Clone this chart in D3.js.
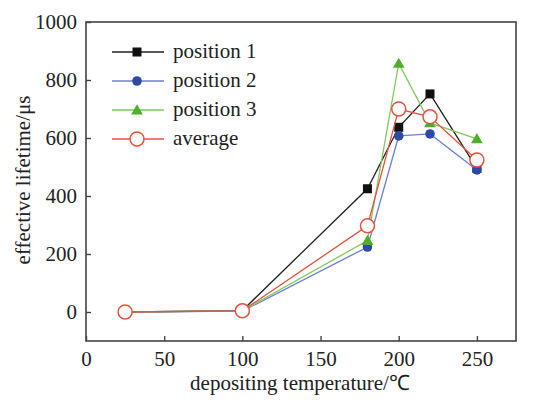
<!DOCTYPE html>
<html lang="en">
<head>
    <meta charset="UTF-8">
    <title>effective lifetime</title>
    <script src="https://cdn.jsdelivr.net/npm/d3@7/dist/d3.min.js"></script>
    <style>
        body { margin: 0; background: #fff; }
    </style>
</head>
<body>
<div id="chart"></div>
<script>
    // values
    var temperatures = [25, 100, 180, 200, 220, 250];
    var position1 = [0, 5, 425, 637, 752, 495];
    var position2 = [0, 3, 224, 607, 614, 490];
    var position3 = [0, 4, 246, 857, 652, 597];
    var average = [0, 4, 297, 700, 673, 524];

    var xTicks = [0, 50, 100, 150, 200, 250];
    var yTicks = [0, 200, 400, 600, 800, 1000];

    var seriesNames = ["position 1", "position 2", "position 3", "average"];

    var serif = "'Liberation Serif', Tinos, 'Times New Roman'";

    var width = 554, height = 405;
    var margin = {left: 86, right: 38, top: 22, bottom: 64};

    var svg = d3.select("#chart").append("svg")
            .attr("width", width)
            .attr("height", height);

    var x = d3.scaleLinear().domain([0, 275]).range([margin.left, width - margin.right]);
    var y = d3.scaleLinear().domain([-100, 1000]).range([height - margin.bottom, margin.top]);

    // frame
    svg.append("rect")
            .attr("x", x(0))
            .attr("y", y(1000))
            .attr("width", x(275) - x(0))
            .attr("height", y(-100) - y(1000))
            .style("fill", "none")
            .attr("stroke", "#444")
            .attr("stroke-width", 1.6);

    var xAxis = svg.append("g")
            .attr("transform", "translate(0," + y(-100) + ")")
            .call(d3.axisBottom(x).tickValues(xTicks).tickFormat(d3.format("d")).tickSize(-5).tickPadding(10));
    var yAxis = svg.append("g")
            .attr("transform", "translate(" + x(0) + ",0)")
            .call(d3.axisLeft(y).tickValues(yTicks).tickFormat(d3.format("d")).tickSize(-5).tickPadding(9));

    [xAxis, yAxis].forEach(function (g) {
        g.attr("font-family", null);
        g.select(".domain").remove();
        g.selectAll(".tick line").attr("stroke", "#444").attr("stroke-width", 1.4);
        g.selectAll(".tick text")
                .style("font-family", serif)
                .style("font-size", "21px")
                .attr("fill", "#222");
    });

    svg.append("text")
            .attr("x", 300)
            .attr("y", 390)
            .attr("text-anchor", "middle")
            .style("font-family", serif)
            .style("font-size", "21px")
            .attr("fill", "#222")
            .text("depositing temperature/℃");

    svg.append("text")
            .attr("transform", "translate(30,180) rotate(-90)")
            .attr("text-anchor", "middle")
            .style("font-family", serif)
            .style("font-size", "21px")
            .attr("fill", "#222")
            .text("effective lifetime/μs");

    var series = [
        {name: seriesNames[0], values: position1, line: "#222", fill: "#111", shape: "square"},
        {name: seriesNames[1], values: position2, line: "#6b7fd6", fill: "#2d4ba6", shape: "circle"},
        {name: seriesNames[2], values: position3, line: "#82c95e", fill: "#4fae2c", shape: "triangle"},
        {name: seriesNames[3], values: average, line: "#e8503f", fill: "#fff", shape: "open"}
    ];

    var line = d3.line()
            .x(function (d) { return x(d[0]); })
            .y(function (d) { return y(d[1]); });

    function marker(g, s, cx, cy) {
        if (s.shape === "square") {
            g.append("rect").attr("x", cx - 4.5).attr("y", cy - 4.5)
                    .attr("width", 9).attr("height", 9).style("fill", s.fill);
        } else if (s.shape === "circle") {
            g.append("circle").attr("cx", cx).attr("cy", cy).attr("r", 4.8).style("fill", s.fill);
        } else if (s.shape === "triangle") {
            g.append("path")
                    .attr("d", d3.symbol().type(d3.symbolTriangle).size(60)())
                    .attr("transform", "translate(" + cx + "," + (cy + 1) + ")")
                    .style("fill", s.fill);
        } else {
            g.append("circle").attr("cx", cx).attr("cy", cy).attr("r", 7)
                    .style("fill", "#fff")
                    .style("stroke", s.line)
                    .style("stroke-width", 1.5);
        }
    }

    series.forEach(function (s) {
        var pts = temperatures.map(function (t, i) { return [t, s.values[i]]; });
        var g = svg.append("g");
        g.append("path")
                .attr("d", line(pts))
                .style("fill", "none")
                .style("stroke", s.line)
                .style("stroke-width", 1.3);
        pts.forEach(function (p) {
            marker(g, s, x(p[0]), y(p[1]));
        });
    });

    // legend
    var legend = svg.append("g");
    series.forEach(function (s, i) {
        var ly = 52 + i * 29;
        legend.append("line")
                .attr("x1", 112).attr("x2", 164)
                .attr("y1", ly).attr("y2", ly)
                .style("stroke", s.line)
                .style("stroke-width", 1.3);
        marker(legend, s, 137, ly);
        legend.append("text")
                .attr("x", 173)
                .attr("y", ly + 6)
                .style("font-family", serif)
                .style("font-size", "21px")
                .attr("fill", "#222")
                .text(s.name);
    });
</script>
</body>
</html>
